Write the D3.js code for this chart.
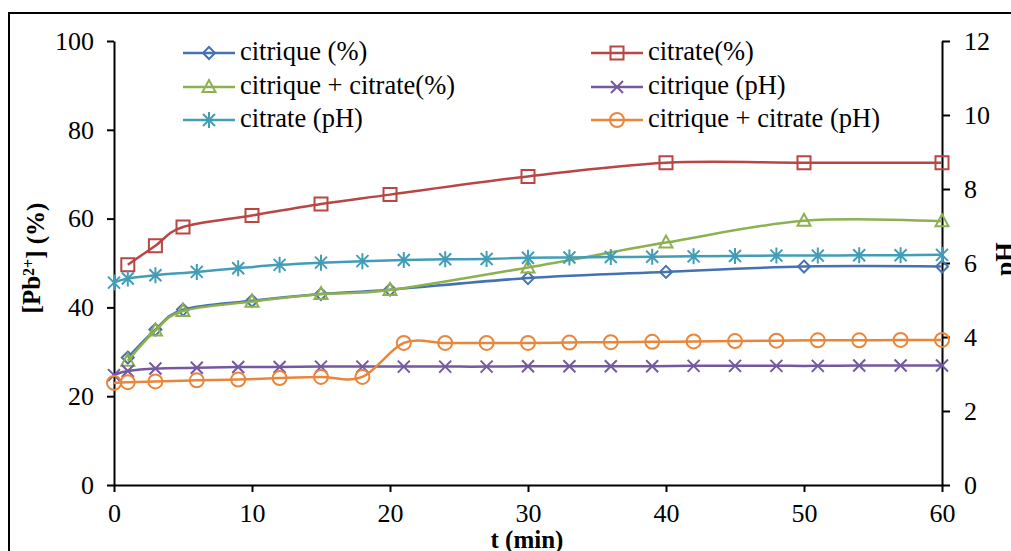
<!DOCTYPE html>
<html>
<head>
<meta charset="utf-8">
<script src="https://cdn.jsdelivr.net/npm/d3@7"></script>
<style>
	body { margin: 0; background: #fff; }
	svg { display: block; font-family: "Liberation Serif", "Times New Roman", serif; }
	.axis path, .axis line { stroke: #000; stroke-width: 2px; }
	.legend_label { font-size: 26.5px; fill: #000; }
	.axis_title { font-size: 25px; font-weight: bold; fill: #000; }
</style>
</head>
<body>
<div id="chart"></div>
<script>
// time points (min)
var tPct = [1, 3, 5, 10, 15, 20, 30, 40, 50, 60];
var tPH = [0, 1, 3, 6, 9, 12, 15, 18, 21, 24, 27, 30, 33, 36, 39, 42, 45, 48, 51, 54, 57, 60];

// [Pb2+] (%)
var citriquePct = [28.7, 35.0, 39.5, 41.5, 43.0, 44.0, 46.6, 48.0, 49.2, 49.2];
var citratePct = [49.6, 53.9, 58.1, 60.7, 63.3, 65.4, 69.5, 72.6, 72.6, 72.6];
var mixPct = [28.0, 34.8, 39.2, 41.3, 43.0, 43.9, 49.0, 54.6, 59.5, 59.4];

// pH
var citriquePH = [2.97, 3.08, 3.15, 3.17, 3.19, 3.19, 3.2, 3.2, 3.2, 3.2, 3.2, 3.21, 3.21, 3.21, 3.21, 3.22, 3.22, 3.22, 3.22, 3.23, 3.23, 3.23];
var citratePH = [5.47, 5.58, 5.67, 5.76, 5.86, 5.95, 6.01, 6.05, 6.08, 6.1, 6.11, 6.14, 6.15, 6.16, 6.17, 6.18, 6.19, 6.2, 6.2, 6.21, 6.21, 6.22];
var mixPH = [2.76, 2.78, 2.8, 2.83, 2.85, 2.89, 2.92, 2.92, 3.84, 3.84, 3.84, 3.84, 3.85, 3.86, 3.87, 3.88, 3.89, 3.9, 3.91, 3.91, 3.92, 3.92];

var xTicks = [0, 10, 20, 30, 40, 50, 60];
var yTicks = [0, 20, 40, 60, 80, 100];
var y2Ticks = [0, 2, 4, 6, 8, 10, 12];

var series = [
	{ name: "citrique (%)", t: tPct, v: citriquePct, axis: "left", color: "#4671B3", marker: "diamond" },
	{ name: "citrate(%)", t: tPct, v: citratePct, axis: "left", color: "#B94643", marker: "square" },
	{ name: "citrique + citrate(%)", t: tPct, v: mixPct, axis: "left", color: "#8DB050", marker: "triangle" },
	{ name: "citrique (pH)", t: tPH, v: citriquePH, axis: "right", color: "#7559A0", marker: "cross" },
	{ name: "citrate (pH)", t: tPH, v: citratePH, axis: "right", color: "#429DB6", marker: "star" },
	{ name: "citrique + citrate (pH)", t: tPH, v: mixPH, axis: "right", color: "#E9863A", marker: "circle" }
];

var width = 1011, height = 551;
var plot = { left: 114, right: 942, top: 41, bottom: 485 };
var serif = "'Liberation Serif', 'Times New Roman', serif";

var svg = d3.select("#chart").append("svg")
	.attr("width", width)
	.attr("height", height);

// outer frame (cut by the picture edges)
svg.append("rect")
	.attr("x", 9).attr("y", 13)
	.attr("width", 1100).attr("height", 700)
	.attr("fill", "none").attr("stroke", "#000").attr("stroke-width", 2);

var x = d3.scaleLinear().domain([0, 60]).range([plot.left, plot.right]);
var y = d3.scaleLinear().domain([0, 100]).range([plot.bottom, plot.top]);
var y2 = d3.scaleLinear().domain([0, 12]).range([plot.bottom, plot.top]);

function styleAxis(g) {
	g.attr("font-family", serif).attr("font-size", 26);
	g.selectAll("text").attr("fill", "#000");
}

svg.append("g").attr("class", "axis")
	.attr("transform", "translate(0," + plot.bottom + ")")
	.call(d3.axisBottom(x).tickValues(xTicks).tickSize(7).tickPadding(12).tickSizeOuter(0))
	.call(styleAxis);

svg.append("g").attr("class", "axis")
	.attr("transform", "translate(" + plot.left + ",0)")
	.call(d3.axisLeft(y).tickValues(yTicks).tickSize(7).tickPadding(13).tickSizeOuter(0))
	.call(styleAxis);

svg.append("g").attr("class", "axis")
	.attr("transform", "translate(" + plot.right + ",0)")
	.call(d3.axisRight(y2).tickValues(y2Ticks).tickSize(8).tickPadding(14).tickSizeOuter(0))
	.call(styleAxis);

// axis titles
var yTitle = svg.append("text").attr("class", "axis_title")
	.attr("transform", "translate(40,258) rotate(-90)")
	.style("text-anchor", "middle");
yTitle.append("tspan").text("[Pb");
yTitle.append("tspan").attr("dy", "-0.4em").style("font-size", "16px").text("2+");
yTitle.append("tspan").attr("dy", "0.4em").text("] (%)");

svg.append("text").attr("class", "axis_title")
	.attr("transform", "translate(1013,259) rotate(-90)")
	.style("text-anchor", "middle")
	.text("pH");

svg.append("text").attr("class", "axis_title")
	.attr("x", 527).attr("y", 548)
	.style("text-anchor", "middle")
	.text("t (min)");

function markerPath(type) {
	switch (type) {
		case "diamond": return "M0,-6L6,0L0,6L-6,0Z";
		case "square": return "M-6.5,-6.5H6.5V6.5H-6.5Z";
		case "triangle": return "M0,-7L6.5,5L-6.5,5Z";
		case "cross": return "M-6,-6L6,6M6,-6L-6,6";
		case "star": return "M-6,-6L6,6M6,-6L-6,6M0,-8V8";
		case "circle": return "M7,0A7,7 0 1,1 -7,0A7,7 0 1,1 7,0Z";
	}
}

series.forEach(function(s) {
	var ys = s.axis == "left" ? y : y2;
	var pts = s.t.map(function(d, i) { return [d, s.v[i]]; });
	var line = d3.line()
		.x(function(d) { return x(d[0]); })
		.y(function(d) { return ys(d[1]); })
		.curve(d3.curveCatmullRom.alpha(0));

	var g = svg.append("g");
	g.append("path")
		.datum(pts)
		.attr("d", line)
		.attr("fill", "none")
		.attr("stroke", s.color)
		.attr("stroke-width", 2.5);

	g.selectAll("path.mark")
		.data(pts)
		.enter().append("path")
		.attr("class", "mark")
		.attr("d", markerPath(s.marker))
		.attr("transform", function(d) { return "translate(" + x(d[0]) + "," + ys(d[1]) + ")"; })
		.attr("fill", "none")
		.attr("stroke", s.color)
		.attr("stroke-width", 2);
});

// legend: two columns of three rows
var legendPos = [
	{ lx: 183, tx: 240, y: 53 },
	{ lx: 591, tx: 648, y: 53 },
	{ lx: 183, tx: 240, y: 87 },
	{ lx: 591, tx: 648, y: 87 },
	{ lx: 183, tx: 240, y: 120 },
	{ lx: 591, tx: 648, y: 120 }
];

var legend = svg.append("g");
series.forEach(function(s, i) {
	var p = legendPos[i];
	legend.append("line")
		.attr("x1", p.lx).attr("x2", p.lx + 52)
		.attr("y1", p.y).attr("y2", p.y)
		.attr("stroke", s.color).attr("stroke-width", 2.5);
	legend.append("path")
		.attr("d", markerPath(s.marker))
		.attr("transform", "translate(" + (p.lx + 26) + "," + p.y + ")")
		.attr("fill", "none")
		.attr("stroke", s.color)
		.attr("stroke-width", 2);
	legend.append("text")
		.attr("class", "legend_label")
		.attr("x", p.tx).attr("y", p.y)
		.attr("dy", "0.27em")
		.text(s.name);
});
</script>
</body>
</html>
